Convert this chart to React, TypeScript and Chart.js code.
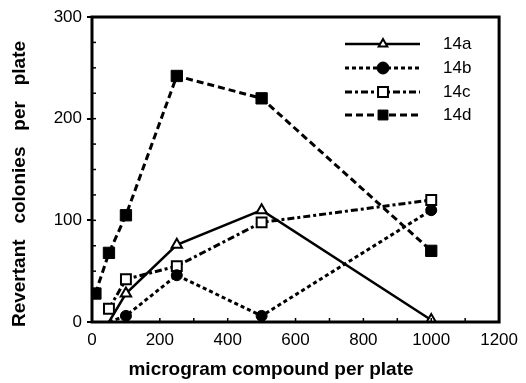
import React, { useEffect, useRef } from "react";
import { Chart, registerables } from "chart.js";
import { drawPoint } from "chart.js/helpers";

Chart.register(...registerables);

const seriesNames = ["14a", "14b", "14c", "14d"];
const doses14a = [50, 100, 250, 500, 1000];
const values14a = [0, 28, 76, 110, 2];
const doses14b = [50, 100, 250, 500, 1000];
const values14b = [0, 6, 46, 6, 110];
const doses14c = [50, 100, 250, 500, 1000];
const values14c = [13, 42, 55, 98, 120];
const doses14d = [10, 50, 100, 250, 500, 1000];
const values14d = [28, 68, 105, 242, 220, 70];

const xTicks = [0, 200, 400, 600, 800, 1000, 1200];
const yTicks = [0, 100, 200, 300];
const xTitle = "microgram compound per plate";
const yTitle = "Revertant   colonies   per   plate";

const toPoints = (xs: number[], ys: number[]) => xs.map((x, i) => ({ x, y: ys[i] }));

const FONT = "'Liberation Sans', Arial, sans-serif";

const framePlugin = {
  id: "frame",
  afterDatasetsDraw(chart: any) {
    const { ctx, chartArea: a, scales } = chart;
    ctx.save();
    ctx.strokeStyle = "#000";
    ctx.lineWidth = 3;
    ctx.setLineDash([]);
    ctx.strokeRect(a.left, a.top, a.right - a.left, a.bottom - a.top);
    // minor inside ticks
    ctx.lineWidth = 1.5;
    const y = scales.y;
    for (let v = 25; v < 300; v += 25) {
      const py = y.getPixelForValue(v);
      ctx.beginPath();
      ctx.moveTo(a.left, py);
      ctx.lineTo(a.left + 4, py);
      ctx.stroke();
    }
    const x = scales.x;
    for (let v = 100; v < 1200; v += 100) {
      const px = x.getPixelForValue(v);
      ctx.beginPath();
      ctx.moveTo(px, a.bottom);
      ctx.lineTo(px, a.bottom - 4);
      ctx.stroke();
    }
    // axis titles
    ctx.fillStyle = "#000";
    ctx.font = `bold 19px ${FONT}`;
    ctx.textAlign = "center";
    ctx.textBaseline = "middle";
    ctx.fillText(xTitle, 271, 370);
    ctx.save();
    ctx.translate(20, 184);
    ctx.rotate(-Math.PI / 2);
    ctx.fillText(yTitle, 0, 0);
    ctx.restore();
    // legend
    const rows = [44, 68, 92, 115];
    chart.data.datasets.forEach((ds: any, i: number) => {
      const ry = rows[i];
      ctx.save();
      ctx.strokeStyle = "#000";
      ctx.lineWidth = ds.borderWidth;
      ctx.setLineDash(ds.borderDash || []);
      ctx.beginPath();
      ctx.moveTo(345, ry);
      ctx.lineTo(420, ry);
      ctx.stroke();
      ctx.setLineDash([]);
      ctx.fillStyle = ds.pointBackgroundColor;
      ctx.strokeStyle = "#000";
      ctx.lineWidth = ds.pointBorderWidth;
      drawPoint(ctx, { pointStyle: ds.pointStyle, radius: ds.legendRadius, borderWidth: ds.pointBorderWidth, rotation: 0 } as any, 383, ry);
      ctx.restore();
      ctx.fillStyle = "#000";
      ctx.font = `17px ${FONT}`;
      ctx.textAlign = "left";
      ctx.textBaseline = "middle";
      ctx.fillText(ds.label, 443, ry);
    });
    ctx.restore();
  },
};

export default function App() {
  const ref = useRef<HTMLCanvasElement | null>(null);
  useEffect(() => {
    if (!ref.current) return;
    const chart = new Chart(ref.current, {
      type: "line",
      data: {
        datasets: [
          {
            label: seriesNames[0],
            data: toPoints(doses14a, values14a),
            borderColor: "#000",
            borderWidth: 2.5,
            borderDash: [],
            pointStyle: "triangle",
            pointRadius: doses14a.map((_, i) => (i === 0 ? 0 : 6)),
            pointBackgroundColor: "#fff",
            pointBorderColor: "#000",
            pointBorderWidth: 2,
            legendRadius: 5,
          } as any,
          {
            label: seriesNames[1],
            data: toPoints(doses14b, values14b),
            borderColor: "#000",
            borderWidth: 3,
            borderDash: [4, 3],
            pointStyle: "circle",
            pointRadius: doses14b.map((_, i) => (i === 0 ? 0 : 5.5)),
            pointBackgroundColor: "#000",
            pointBorderColor: "#000",
            pointBorderWidth: 1,
            legendRadius: 6,
          } as any,
          {
            label: seriesNames[2],
            data: toPoints(doses14c, values14c),
            borderColor: "#000",
            borderWidth: 3,
            borderDash: [7, 3, 3, 3],
            pointStyle: "rect",
            pointRadius: 7,
            pointBackgroundColor: "#fff",
            pointBorderColor: "#000",
            pointBorderWidth: 2,
            legendRadius: 7,
          } as any,
          {
            label: seriesNames[3],
            data: toPoints(doses14d, values14d),
            borderColor: "#000",
            borderWidth: 3,
            borderDash: [7, 4],
            pointStyle: "rect",
            pointRadius: 8,
            pointBackgroundColor: "#000",
            pointBorderColor: "#000",
            pointBorderWidth: 1,
            legendRadius: 7,
          } as any,
        ],
      },
      options: {
        animation: false,
        responsive: true,
        maintainAspectRatio: false,
        layout: { padding: { top: 17, right: 25, left: 0, bottom: 0 } },
        plugins: { legend: { display: false }, tooltip: { enabled: false } },
        scales: {
          x: {
            type: "linear",
            min: 0,
            max: 1200,
            afterFit: (s: any) => { s.height = 61; },
            afterBuildTicks: (s: any) => { s.ticks = xTicks.map((v) => ({ value: v })); },
            grid: { display: true, drawOnChartArea: false, drawTicks: false },
            border: { display: false },
            ticks: { color: "#000", font: { family: FONT, size: 17 }, padding: 8, maxRotation: 0, callback: (v: any) => String(v) },
          },
          y: {
            type: "linear",
            min: 0,
            max: 300,
            afterFit: (s: any) => { s.width = 92; },
            afterBuildTicks: (s: any) => { s.ticks = yTicks.map((v) => ({ value: v })); },
            grid: { display: true, drawOnChartArea: false, drawTicks: true, tickLength: 5, color: "#000", lineWidth: 2 },
            border: { display: false },
            ticks: { color: "#000", font: { family: FONT, size: 17 }, padding: 5, callback: (v: any) => String(v) },
          },
        },
      },
      plugins: [framePlugin],
    } as any);
    return () => chart.destroy();
  }, []);
  return (
    <div style={{ position: "absolute", left: 0, top: 0, width: 526, height: 383, background: "#fff" }}>
      <canvas ref={ref} />
    </div>
  );
}
